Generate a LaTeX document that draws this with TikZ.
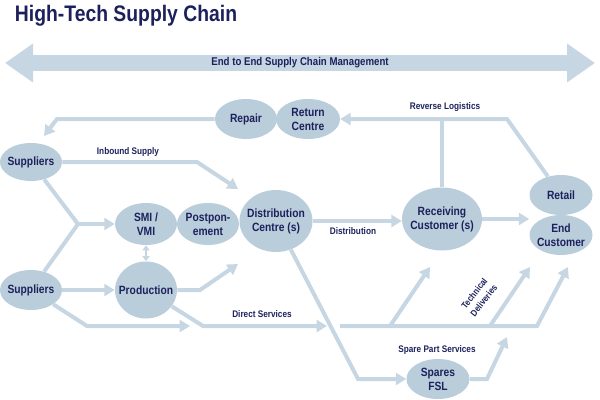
\documentclass[tikz,border=0pt]{standalone}
\usepackage{fontspec}
\setmainfont{Liberation Sans}[FakeStretch=0.86]
\usepackage{tikz}
\usetikzlibrary{arrows.meta,shapes.geometric}
\definecolor{blobfill}{RGB}{186,205,219}
\definecolor{flowblue}{RGB}{198,214,226}
\definecolor{navy}{RGB}{28,33,92}

\begin{document}
\begin{tikzpicture}[x=0.25mm,y=-0.25mm,
  blob/.style={ellipse,fill=blobfill,inner xsep=-2mm,inner ysep=0pt,align=center,text=navy,
    font=\bfseries\fontsize{8.5}{10}\selectfont,minimum width=15.5mm,minimum height=10mm},
  flow/.style={flowblue,line width=1mm,-{Triangle[length=2.6mm,width=3mm]}},
  flowline/.style={flowblue,line width=1mm},
  tag/.style={text=navy,font=\bfseries\fontsize{6.8}{8}\selectfont,align=center}]
\useasboundingbox (0,0) rectangle (600,400);

% TOP: title and end-to-end band
\node[anchor=west,text=navy,font=\bfseries\fontsize{16}{19}\selectfont] (title) at (10,16) {High-Tech Supply Chain};
\coordinate (bigL) at (5,63);
\coordinate (bigR) at (595,63);
\draw[flowblue,line width=4mm,{Triangle[length=7mm,width=9.25mm]}-{Triangle[length=7mm,width=9.25mm]}] (bigL) -- (bigR);
\node[tag,font=\bfseries\fontsize{8}{10}\selectfont] (e2e) at (300,63) {End to End Supply Chain Management};

% the stations
\node[blob] (repair) at (246,119) {Repair};
\node[blob,minimum width=16mm] (retcentre) at (308,119) {Return\\Centre};
\node[blob,minimum height=9.5mm] (supTop) at (31,162) {Suppliers};
\node[blob,minimum height=10.5mm] (smi) at (146,224) {SMI /\\VMI};
\node[blob,minimum height=10.5mm] (postpone) at (208,224) {Postpon-\\ement};
\node[blob,minimum width=18.25mm,minimum height=15.5mm] (dist) at (276,221) {Distribution\\Centre (s)};
\node[blob,minimum width=20mm,minimum height=15.75mm] (recv) at (442,219) {Receiving\\Customer (s)};
\node[blob,minimum width=15.75mm] (retail) at (561,195) {Retail};
\node[blob,minimum width=15.75mm] (endcust) at (561,235) {End\\Customer};
\node[blob] (supBot) at (31,290) {Suppliers};
\node[blob,minimum height=14.25mm] (prod) at (146,290) {Production};
\node[blob,minimum width=15.75mm] (spares) at (438,379) {Spares\\FSL};

% flow labels
\node[tag] (lblReverse) at (445,107) {Reverse Logistics};
\node[tag] (lblInbound) at (128,152) {Inbound Supply};
\node[tag] (lblDistr) at (353,231) {Distribution};
\node[tag] (lblDirect) at (262,314) {Direct Services};
\node[tag,font=\bfseries\fontsize{6.5}{8.5}\selectfont,rotate=52] (lblTech) at (479,297) {Technical\\Deliveries};
\node[tag] (lblSpare) at (437,350) {Spare Part Services};

% reverse logistics back to the return centre
\coordinate (revBend) at (507,119);
\draw[flow] (retail) -- (revBend) -- (retcentre);
\draw[flowline] (recv) -- (recv |- retcentre);

% repaired parts back to suppliers
\coordinate (retBend) at (57,119);
\coordinate (supTip) at (44,136);
\draw[flow] (repair) -- (retBend) -- (supTip);

% inbound supply
\coordinate (inBend) at (197,162);
\coordinate (distTipA) at (238,189);
\draw[flow] (supTop) -- (inBend) -- (distTipA);

% both suppliers into SMI / VMI
\coordinate (junc) at (78,224);
\draw[flowline] (supTop) -- (junc) -- (supBot);
\draw[flow] (junc) -- (smi);
\draw[flowblue,line width=0.5mm,{Triangle[length=1.3mm,width=1.8mm]}-{Triangle[length=1.3mm,width=1.8mm]}] (smi) -- (prod);

% production
\draw[flow] (supBot) -- (prod);
\coordinate (dsBend) at (87,326);
\coordinate (dsTip) at (190,326);
\draw[flow] (supBot) -- (dsBend) -- (dsTip);
\coordinate (prodBend) at (200,290);
\coordinate (distTipB) at (238,264);
\draw[flow] (prod) -- (prodBend) -- (distTipB);

% direct services
\coordinate (dirBend) at (203,326);
\coordinate (dirTip) at (327,326);
\draw[flow] (prod) -- (dirBend) -- (dirTip);

% technical deliveries
\coordinate (techStart) at (340,326);
\coordinate (techBend) at (537,326);
\coordinate (endTip) at (568,267);
\draw[flow] (techStart) -- (techBend) -- (endTip);
\coordinate (brA) at (390,326);
\coordinate (recvTip) at (430,267);
\draw[flow] (brA) -- (recvTip);
\coordinate (brB) at (490,326);
\coordinate (techTip) at (530,267);
\draw[flow] (brB) -- (techTip);

% distribution to customers
\draw[flow] (dist) -- (dist -| recv.west);
\draw[flow] (recv) -- (recv -| endcust.west);

% spare part services
\coordinate (spBend) at (358,379);
\draw[flow] (dist) -- (spBend) -- (spares);
\coordinate (spOut) at (487,379);
\coordinate (spTip) at (507,337);
\draw[flow] (spares) -- (spOut) -- (spTip);
\end{tikzpicture}
\end{document}
